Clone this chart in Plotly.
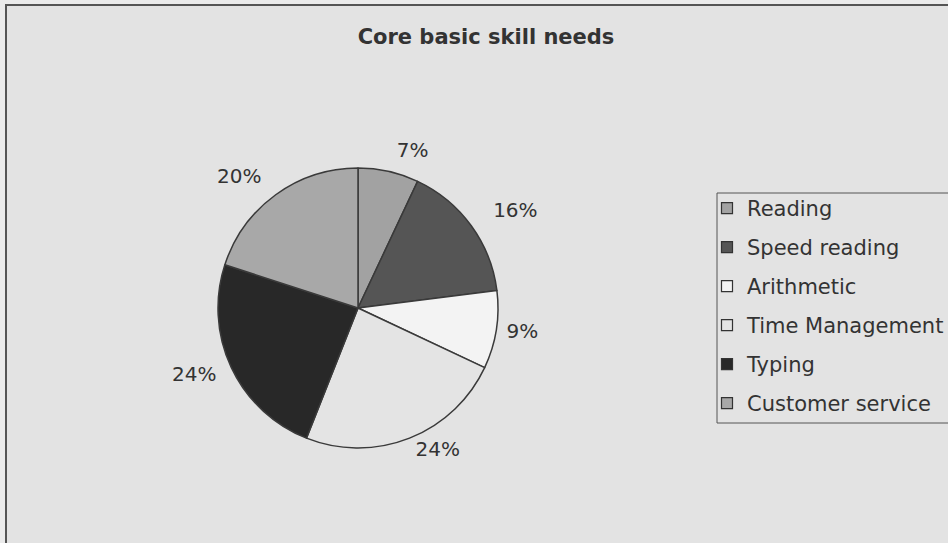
import plotly.graph_objects as go

categories = ["Reading", "Speed reading", "Arithmetic", "Time Management", "Typing", "Customer service"]
values = [7, 16, 9, 24, 24, 20]
colors = ["#a2a2a2", "#555555", "#f3f3f3", "#e4e4e4", "#282828", "#a8a8a8"]
title_text = "Core basic skill needs"

W, H = 948, 543
TEXT = "#333333"

# pie geometry (pixels)
CX, CY, R = 358, 308, 140
# outward offset of each percentage label (fraction of radius)
label_pull = [0.07, 0.14, 0.03, 0.0, 0.07, 0.10]


def dom(r):
    cy = H - CY
    return dict(x=[(CX - r) / W, (CX + r) / W], y=[(cy - r) / H, (cy + r) / H])


fig = go.Figure()

# visible pie
fig.add_trace(go.Pie(
    labels=categories,
    values=values,
    sort=False,
    direction="clockwise",
    rotation=0,
    marker=dict(colors=colors, line=dict(color="#3a3a3a", width=1.5)),
    textinfo="none",
    showlegend=False,
    hoverinfo="label+percent",
    domain=dom(R),
))

# transparent twin pie that carries the percentage labels
fig.add_trace(go.Pie(
    labels=categories,
    values=values,
    sort=False,
    direction="clockwise",
    rotation=0,
    pull=label_pull,
    marker=dict(colors=["rgba(0,0,0,0)"] * len(values), line=dict(width=0)),
    textinfo="percent",
    texttemplate="%{percent:.0%}",
    textposition="outside",
    outsidetextfont=dict(family="DejaVu Sans", size=20, color=TEXT),
    showlegend=False,
    hoverinfo="skip",
    domain=dom(R * (1 + max(label_pull))),
))

# legend entries built from the same arrays
for name, col in zip(categories, colors):
    fig.add_trace(go.Scatter(
        x=[None], y=[None], mode="markers", name=name,
        legendgroup=name,
        marker=dict(symbol="square", size=11, color=col,
                    line=dict(color="#333333", width=1.2)),
    ))

fig.update_layout(
    width=W, height=H,
    margin=dict(l=0, r=0, t=0, b=0, autoexpand=False),
    paper_bgcolor="#ebebeb",
    plot_bgcolor="rgba(0,0,0,0)",
    xaxis=dict(visible=False),
    yaxis=dict(visible=False),
    title=dict(text="<b>" + title_text + "</b>", x=486 / W, xanchor="center",
               y=1 - 37 / H, yanchor="middle",
               font=dict(family="DejaVu Sans", size=21, color=TEXT)),
    legend=dict(
        x=707 / W, xanchor="left", y=1 - 188 / H, yanchor="top",
        bgcolor="rgba(0,0,0,0)", borderwidth=0,
        font=dict(family="DejaVu Sans", size=21, color=TEXT),
        traceorder="grouped", tracegroupgap=8.7,
    ),
    shapes=[
        dict(type="rect", xref="paper", yref="paper",
             x0=6 / W, x1=1.05, y0=-0.05, y1=1 - 5 / H,
             fillcolor="#e3e3e3", line=dict(color="#555555", width=2),
             layer="below"),
        dict(type="rect", xref="paper", yref="paper",
             x0=717 / W, x1=1.05, y0=1 - 423 / H, y1=1 - 193 / H,
             fillcolor="#e3e3e3", line=dict(color="#555555", width=1),
             layer="below"),
    ],
)

fig.write_html("out.html", config={"displayModeBar": False},
               post_script="document.body.style.margin='0px';")
